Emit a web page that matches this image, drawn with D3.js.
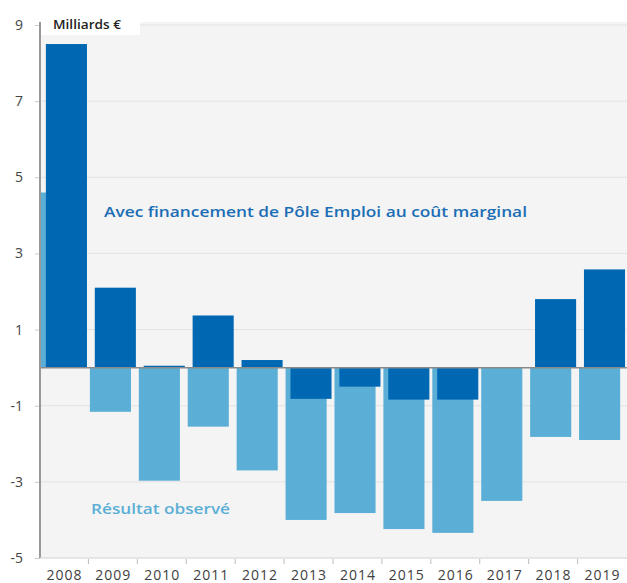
<!DOCTYPE html>
<html>
<head>
<meta charset="utf-8">
<script src="https://cdn.jsdelivr.net/npm/d3@7"></script>
<style>
  body { margin: 0; background: #fff; }
  svg { display: block; font-family: "Open Sans", "DejaVu Sans", sans-serif; }
</style>
</head>
<body>
<svg id="chart" width="627" height="583"></svg>
<script>
// years on the x axis
const years = ["2008", "2009", "2010", "2011", "2012", "2013", "2014", "2015", "2016", "2017", "2018", "2019"]
// Résultat observé (light blue)
const observed = [4.6, -1.16, -2.97, -1.55, -2.7, -4.0, -3.82, -4.24, -4.34, -3.5, -1.82, -1.9]
// Avec financement de Pôle Emploi au coût marginal (dark blue)
const marginal = [8.5, 2.1, 0.05, 1.37, 0.2, -0.82, -0.5, -0.84, -0.84, 0, 1.8, 2.58]
const yTicks = [-5, -3, -1, 1, 3, 5, 7, 9]

const lightBlue = "#5bafd6"
const darkBlue = "#0068b3"

const svg = d3.select("#chart")
const plot = {left: 40, right: 627, top: 22, bottom: 558}

const x = d3.scaleBand()
    .domain(years)
    .range([plot.left, plot.right])
    .padding(0)

const y = d3.scaleLinear()
    .domain([-5, 9])
    .range([558, 25])

// grey plot background
svg.append("rect")
    .attr("x", plot.left)
    .attr("y", plot.top)
    .attr("width", plot.right - plot.left)
    .attr("height", plot.bottom - plot.top)
    .style("fill", "#f4f4f4")

// gridlines
svg.append("g")
    .selectAll("line")
    .data(yTicks)
    .enter()
    .append("line")
    .attr("x1", plot.left)
    .attr("x2", plot.right)
    .attr("y1", d => y(d))
    .attr("y2", d => y(d))
    .style("stroke", "#e2e2e2")
    .style("stroke-width", 1)

// unit label box
svg.append("rect")
    .attr("x", plot.left + 1)
    .attr("y", 10)
    .attr("width", 99)
    .attr("height", 25)
    .style("fill", "#fff")
svg.append("text")
    .attr("x", 53)
    .attr("y", 29)
    .attr("textLength", 68)
    .attr("lengthAdjust", "spacingAndGlyphs")
    .style("font-size", "12px")
    .style("font-weight", 600)
    .style("fill", "#222")
    .text("Milliards €")

const bw = x.bandwidth()

const appendBars = (data, color, offset) => {
    svg.append("g")
        .selectAll("rect")
        .data(data)
        .enter()
        .append("rect")
        .attr("x", (d, i) => x(years[i]) + offset * bw)
        .attr("width", 0.84 * bw)
        .attr("y", d => y(Math.max(0, d)))
        .attr("height", d => Math.abs(y(d) - y(0)))
        .style("fill", color)
}

appendBars(observed, lightBlue, 0.02)
appendBars(marginal, darkBlue, 0.12)

// zero line
svg.append("line")
    .attr("x1", plot.left)
    .attr("x2", plot.right)
    .attr("y1", y(0))
    .attr("y2", y(0))
    .style("stroke", "#8a8a8a")
    .style("stroke-width", 1.5)

// Y axis
const yAxis = svg.append("g")
    .attr("transform", "translate(" + plot.left + ",0)")
    .call(d3.axisLeft(y).tickValues(yTicks).tickSize(5).tickPadding(12).tickFormat(d => String(d)))
yAxis.select(".domain").remove()
yAxis.append("line")
    .attr("x1", 0).attr("x2", 0)
    .attr("y1", plot.top).attr("y2", plot.bottom)
    .style("stroke", "#999")
    .style("stroke-width", 2)
yAxis.selectAll(".tick line").style("stroke", "#ccc")
yAxis.selectAll("text")
    .style("font-size", "14px")
    .style("fill", "#444")
    .style("font-family", "\"Open Sans\", sans-serif")

// X axis: ticks at band borders, labels centered
const xAxis = svg.append("g")
svg.append("line")
    .attr("x1", plot.left).attr("x2", plot.right)
    .attr("y1", plot.bottom).attr("y2", plot.bottom)
    .style("stroke", "#ddd")
xAxis.selectAll("line")
    .data(years.slice(1))
    .enter()
    .append("line")
    .attr("x1", d => x(d) - 0.5)
    .attr("x2", d => x(d) - 0.5)
    .attr("y1", plot.bottom + 1)
    .attr("y2", plot.bottom + 6)
    .style("stroke", "#bbb")
xAxis.selectAll("text")
    .data(years)
    .enter()
    .append("text")
    .attr("x", d => x(d) + bw / 2)
    .attr("y", 580)
    .style("text-anchor", "middle")
    .style("font-size", "14px")
    .style("letter-spacing", "1px")
    .style("fill", "#404040")
    .text(d => d)

// series annotations
svg.append("text")
    .attr("x", 104)
    .attr("y", 217)
    .attr("textLength", 423)
    .attr("lengthAdjust", "spacingAndGlyphs")
    .style("font-size", "14px")
    .style("font-weight", 600)
    .style("fill", "#1b6db5")
    .text("Avec financement de Pôle Emploi au coût marginal")

svg.append("text")
    .attr("x", 91)
    .attr("y", 514)
    .attr("textLength", 139)
    .attr("lengthAdjust", "spacingAndGlyphs")
    .style("font-size", "14px")
    .style("font-weight", 600)
    .style("fill", lightBlue)
    .text("Résultat observé")
</script>
</body>
</html>
